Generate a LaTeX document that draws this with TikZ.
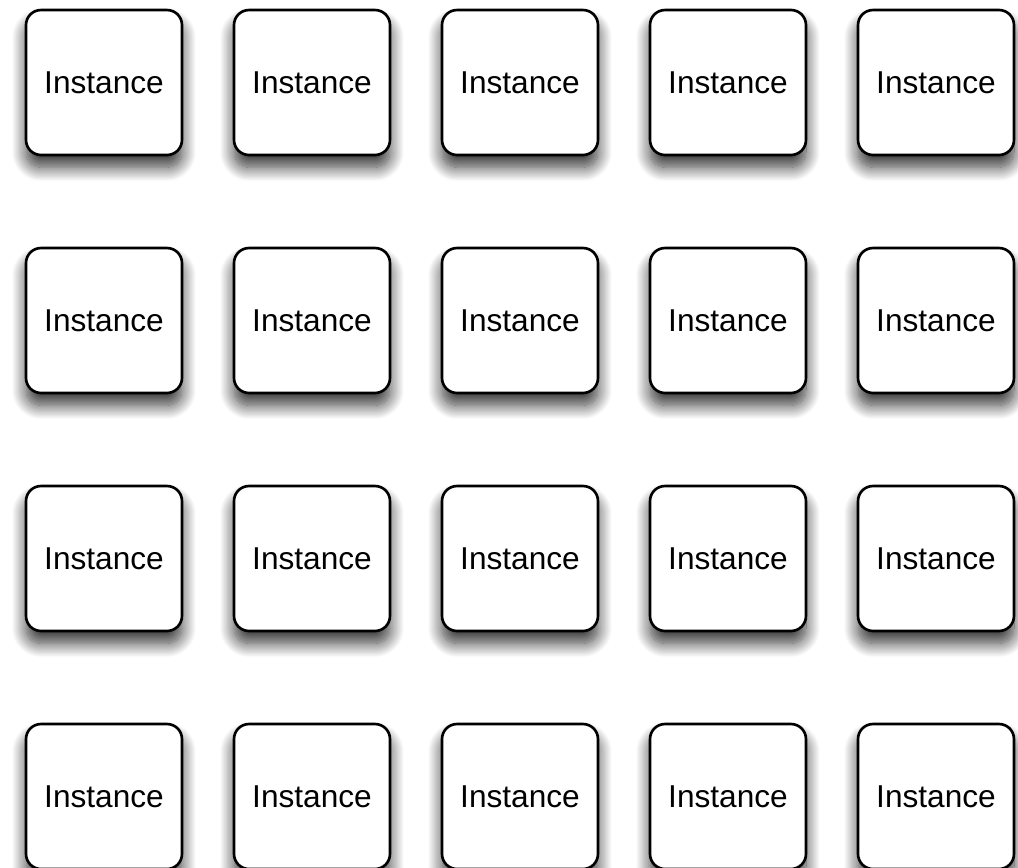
\documentclass[tikz,border=0pt]{standalone}
\usepackage{fontspec}
\setmainfont{Liberation Sans}
\usepackage{tikz}
\usetikzlibrary{positioning,shadows,shadows.blur}

\begin{document}
\begin{tikzpicture}[
    x=0.02cm, y=-0.02cm,
    instance/.style={rectangle, draw=black, line width=1.5pt, fill=white, rounded corners=0.3cm,
        minimum width=3.12cm, minimum height=2.9cm, inner sep=0pt, font=\fontsize{18}{20}\selectfont,
        blur shadow={shadow xshift=0pt, shadow yshift=-7pt, shadow blur radius=8pt, shadow blur steps=16, shadow opacity=80}}
]
    \useasboundingbox (0,0) rectangle (1018,867);
    % Grid of instances
    \foreach \r in {0,...,3} {
        \foreach \c in {0,...,4} {
            \node [instance] (inst-\r-\c) at ({104+208*\c},{82.5+238*\r}) {Instance};
        }
    }
\end{tikzpicture}
\end{document}
